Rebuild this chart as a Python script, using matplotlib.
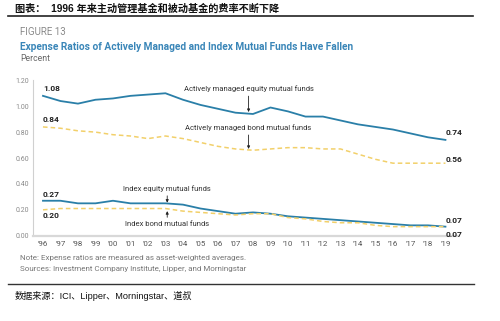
import numpy as np
import matplotlib.pyplot as plt

years = np.arange(1996, 2020)
year_labels = ["'%02d" % (y % 100) for y in years]

active_equity = [1.08, 1.04, 1.02, 1.05, 1.06, 1.08, 1.09, 1.10, 1.05, 1.01, 0.98, 0.95,
                 0.94, 0.99, 0.96, 0.92, 0.92, 0.89, 0.86, 0.84, 0.82, 0.79, 0.76, 0.74]
active_bond = [0.84, 0.83, 0.81, 0.80, 0.78, 0.77, 0.75, 0.77, 0.75, 0.72, 0.69, 0.67,
               0.66, 0.67, 0.68, 0.68, 0.67, 0.67, 0.63, 0.59, 0.56, 0.56, 0.56, 0.56]
index_equity = [0.27, 0.27, 0.25, 0.25, 0.27, 0.25, 0.25, 0.25, 0.24, 0.21, 0.19, 0.17,
                0.18, 0.17, 0.15, 0.14, 0.13, 0.12, 0.11, 0.10, 0.09, 0.08, 0.08, 0.07]
index_bond = [0.20, 0.21, 0.21, 0.21, 0.21, 0.21, 0.21, 0.21, 0.19, 0.18, 0.17, 0.16,
              0.17, 0.17, 0.14, 0.13, 0.11, 0.10, 0.10, 0.08, 0.07, 0.07, 0.07, 0.07]

blue = '#2a7fa8'
gold = '#f2d06a'
dark = '#222222'

plt.rcParams['font.family'] = ['Roboto', 'DejaVu Sans']

fig = plt.figure(figsize=(5, 3.21), dpi=100)
ax = fig.add_axes([0.066, 0.2657, 0.848, 0.4841])

ax.plot(years, active_equity, color=blue, lw=1.3)
ax.plot(years, index_equity, color=blue, lw=1.3)
ax.plot(years, active_bond, color=gold, lw=1.1, ls=(0, (3, 2)))
ax.plot(years, index_bond, color=gold, lw=1.1, ls=(0, (3, 2)))

ax.set_xlim(1995.43, 2019.66)
ax.set_ylim(0, 1.2)
ax.set_yticks(np.arange(0, 1.21, 0.2))
ax.set_yticklabels(['%.2f' % v for v in np.arange(0, 1.21, 0.2)])
ax.set_xticks(years)
ax.set_xticklabels(year_labels)
ax.tick_params(axis='y', labelsize=5, colors='#8a8a8a', length=0, pad=3)
ax.tick_params(axis='x', labelsize=5.7, colors='#555555', length=0, pad=4)
for s in ['top', 'right']:
    ax.spines[s].set_visible(False)
ax.spines['left'].set_color('#d0d0d0')
ax.spines['left'].set_linewidth(0.8)
ax.spines['bottom'].set_color('#d8d8d8')
ax.spines['bottom'].set_linewidth(1.6)

# end-point values
lab = dict(fontsize=6, fontweight='bold', color=dark)
ax.text(years[0], active_equity[0] + 0.03, '%.2f' % active_equity[0], ha='left', va='bottom', **lab)
ax.text(years[0], active_bond[0] + 0.03, '%.2f' % active_bond[0], ha='left', va='bottom', **lab)
ax.text(years[0], index_equity[0] + 0.02, '%.2f' % index_equity[0], ha='left', va='bottom', **lab)
ax.text(years[0], index_bond[0] - 0.02, '%.2f' % index_bond[0], ha='left', va='top', **lab)
ax.text(years[-1], active_equity[-1] + 0.03, '%.2f' % active_equity[-1], ha='left', va='bottom', **lab)
ax.text(years[-1], active_bond[-1] + 0.00, '%.2f' % active_bond[-1], ha='left', va='bottom', **lab)
ax.text(years[-1], index_equity[-1] + 0.02, '%.2f' % index_equity[-1], ha='left', va='bottom', **lab)
ax.text(years[-1], index_bond[-1] - 0.03, '%.2f' % index_bond[-1], ha='left', va='top', **lab)

# series callouts with arrows
arr = dict(arrowstyle='-|>', color=dark, lw=0.6, mutation_scale=4, shrinkA=1, shrinkB=0)
txt = dict(fontsize=5.5, color='#333333', ha='center')
ax.annotate('Actively managed equity mutual funds', xy=(2007.75, 0.955), xytext=(2007.75, 1.11),
            va='bottom', arrowprops=arr, **txt)
ax.annotate('Actively managed bond mutual funds', xy=(2007.75, 0.67), xytext=(2007.75, 0.81),
            va='bottom', arrowprops=arr, **txt)
ax.annotate('Index equity mutual funds', xy=(2003.1, 0.255), xytext=(2003.1, 0.34),
            va='bottom', arrowprops=arr, **txt)
ax.annotate('Index bond mutual funds', xy=(2003.1, 0.19), xytext=(2003.1, 0.11),
            va='top', arrowprops=arr, **txt)

# headings and notes
cjk = ['Liberation Sans', 'Noto Sans CJK SC']
fig.text(0.03, 0.972, '图表：  1996 年来主动管理基金和被动基金的费率不断下降', family=cjk,
         fontsize=7.3, fontweight='bold', color='#111111', va='center')
fig.add_artist(plt.Line2D([0.016, 0.946], [0.951, 0.951], color='#222222', lw=1.2))
fig.text(0.04, 0.90, 'FIGURE 13', fontsize=7, color='#8a8a8a', va='center')
fig.text(0.04, 0.853, 'Expense Ratios of Actively Managed and Index Mutual Funds Have Fallen',
         fontsize=7.25, fontweight='bold', color='#3a86b8', va='center')
fig.text(0.04, 0.818, 'Percent', fontsize=6.2, color='#666666', va='center')
fig.text(0.04, 0.196, 'Note: Expense ratios are measured as asset-weighted averages.',
         fontsize=5.8, color='#777777', va='center')
fig.text(0.04, 0.162, 'Sources: Investment Company Institute, Lipper, and Morningstar',
         fontsize=5.8, color='#777777', va='center')
fig.add_artist(plt.Line2D([0.016, 0.948], [0.115, 0.115], color='#333333', lw=1.0))
fig.text(0.03, 0.078, '数据来源：ICI、Lipper、Morningstar、道叔', family=cjk,
         fontsize=6.6, color='#111111', va='center')

fig.savefig('out.png', dpi=100)
